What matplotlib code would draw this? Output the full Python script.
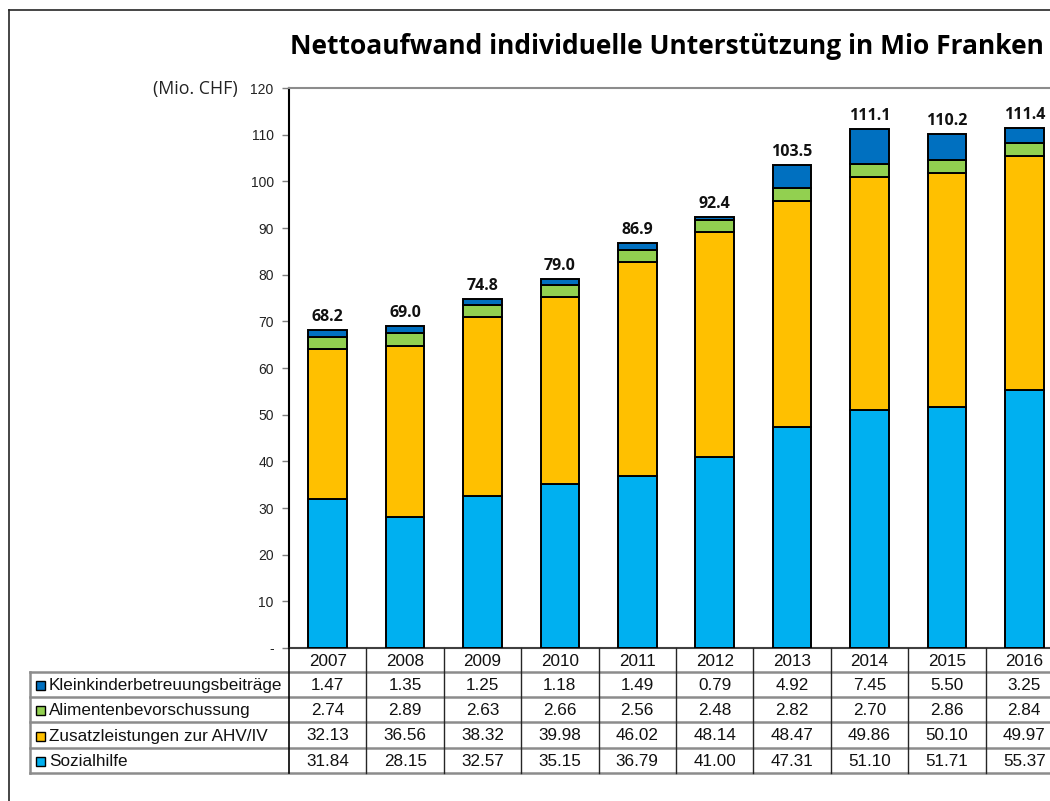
import matplotlib
matplotlib.use('Agg')
import matplotlib.pyplot as plt
import numpy as np
from matplotlib.transforms import blended_transform_factory
from matplotlib.lines import Line2D
from matplotlib.patches import Rectangle

# ---- data ----
years = ['2007', '2008', '2009', '2010', '2011', '2012', '2013', '2014', '2015', '2016']
kleinkinder = [1.47, 1.35, 1.25, 1.18, 1.49, 0.79, 4.92, 7.45, 5.50, 3.25]
alimente = [2.74, 2.89, 2.63, 2.66, 2.56, 2.48, 2.82, 2.70, 2.86, 2.84]
zusatz = [32.13, 36.56, 38.32, 39.98, 46.02, 48.14, 48.47, 49.86, 50.10, 49.97]
sozialhilfe = [31.84, 28.15, 32.57, 35.15, 36.79, 41.00, 47.31, 51.10, 51.71, 55.37]

series_names = ['Kleinkinderbetreuungsbeiträge', 'Alimentenbevorschussung',
                'Zusatzleistungen zur AHV/IV', 'Sozialhilfe']
series_values = [kleinkinder, alimente, zusatz, sozialhilfe]
series_colors = ['#0070C0', '#92D050', '#FFC000', '#00B0F0']

title = 'Nettoaufwand individuelle Unterstützung in Mio Franken'
unit_label = '(Mio. CHF)'
y_ticks = [0, 10, 20, 30, 40, 50, 60, 70, 80, 90, 100, 110, 120]
y_ticklabels = ['-', '10', '20', '30', '40', '50', '60', '70', '80', '90', '100', '110', '120']

# ---- layout ----
W, H = 1050, 801
fig = plt.figure(figsize=(W / 100, H / 100), dpi=100)


def fx(px):
    return px / W


def fy(py):
    return 1 - py / H


ax_left, ax_right, ax_top, ax_bottom = 289, 1063, 88, 648
ax = fig.add_axes([fx(ax_left), fy(ax_bottom), fx(ax_right) - fx(ax_left), fy(ax_top) - fy(ax_bottom)])

x = np.arange(len(years))
bottom = np.zeros(len(years))
for vals, col in zip(series_values[::-1], series_colors[::-1]):
    ax.bar(x, vals, 0.5, bottom=bottom, color=col, edgecolor='black', linewidth=1.4, zorder=3)
    bottom = bottom + np.array(vals)

totals = bottom
for xi, t in zip(x, totals):
    ax.annotate(f'{t:.1f}', (xi, t), xytext=(0, 6.5), textcoords='offset points',
                ha='center', va='baseline', fontsize=11.5, fontweight='bold',
                family=['Open Sans', 'DejaVu Sans'], color='#111111')

ax.set_xlim(-0.5, len(years) - 0.5)
ax.set_ylim(0, 120)
ax.set_yticks(y_ticks)
ax.set_yticklabels(y_ticklabels, fontsize=10, family='Liberation Sans', color='#222222')
ax.set_xticks([])
ax.tick_params(axis='y', direction='out', length=5, width=1, color='#7f7f7f', pad=6)
ax.spines['left'].set_color('black')
ax.spines['left'].set_linewidth(1.5)
ax.spines['top'].set_color('#8c8c8c')
ax.spines['top'].set_linewidth(1.5)
ax.spines['bottom'].set_color('#404040')
ax.spines['bottom'].set_linewidth(1.5)
ax.spines['right'].set_visible(False)

# unit label
fig.text(fx(238), fy(89), unit_label, ha='right', va='center', fontsize=12.8,
         family=['Open Sans', 'DejaVu Sans'], color='#222222')

# title
fig.text(fx(290), fy(47), title, ha='left', va='center', fontsize=19.0, fontweight='bold',
         family=['Open Sans', 'DejaVu Sans'], color='black')

# outer frame
fig.add_artist(Line2D([fx(9), fx(9)], [fy(10), fy(801)], color='#262626', lw=1.2, transform=fig.transFigure))
fig.add_artist(Line2D([fx(9), fx(1050)], [fy(10), fy(10)], color='#262626', lw=1.2, transform=fig.transFigure))

# ---- data table ----
blend = blended_transform_factory(ax.transData, fig.transFigure)
header_top, row_tops = 648, [672, 697, 722, 748, 773]
table_left = 30

# horizontal lines (gray)
for yy in row_tops:
    fig.add_artist(Line2D([fx(table_left), fx(1050)], [fy(yy), fy(yy)], color='#8c8c8c', lw=1.8,
                          transform=fig.transFigure))
# left border
fig.add_artist(Line2D([fx(table_left), fx(table_left)], [fy(row_tops[0]), fy(row_tops[-1])],
                      color='#8c8c8c', lw=1.8, transform=fig.transFigure))
# label column right border (continues axis)
fig.add_artist(Line2D([fx(ax_left), fx(ax_left)], [fy(header_top), fy(row_tops[-1])],
                      color='black', lw=1.2, transform=fig.transFigure))
# vertical separators between years
for i in range(len(years)):
    fig.add_artist(Line2D([i + 0.5, i + 0.5], [fy(header_top), fy(row_tops[-1])],
                          color='#262626', lw=1.0, transform=blend))

# year header
for i, yr in enumerate(years):
    fig.text(i, fy((header_top + row_tops[0]) / 2 + 1), yr, transform=blend, ha='center', va='center',
             fontsize=12.3, family='Liberation Sans', color='#111111')

# rows
for r, (name, vals, col) in enumerate(zip(series_names, series_values, series_colors)):
    yc = (row_tops[r] + row_tops[r + 1]) / 2 + 1
    fig.add_artist(Rectangle((fx(36), fy(yc + 4.5)), fx(9), 9 / H, facecolor=col, edgecolor='black',
                             lw=1.0, transform=fig.transFigure))
    fig.text(fx(49), fy(yc), name, ha='left', va='center', fontsize=12.3, family='Liberation Sans',
             color='#111111')
    for i, v in enumerate(vals):
        fig.text(i, fy(yc), f'{v:.2f}', transform=blend, ha='center', va='center', fontsize=12.3,
                 family='Liberation Sans', color='#111111')

fig.savefig('out.png', dpi=100)
